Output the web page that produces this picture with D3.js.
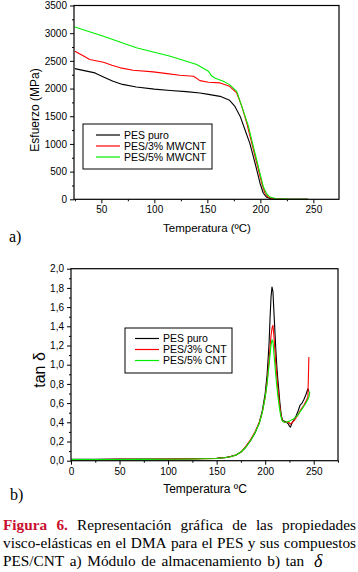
<!DOCTYPE html>
<html><head><meta charset="utf-8">
<script src="https://cdn.jsdelivr.net/npm/d3@7/dist/d3.min.js"></script>
<style>body{margin:0;background:#fff}svg{display:block}</style>
</head><body>
<svg id="c" width="358" height="572"></svg>
<script>
// ---------- DATA: chart a (storage modulus) ----------
const seriesNamesA = ["PES puro", "PES/3% MWCNT", "PES/5% MWCNT"];
const tempA_puro = [25,35,44,52,61,70,83,100,115,130,143,151,162,171,176,181,185.5,190,193.4,196.6,199.7,202.8,206,210,215,230,245];
const modA_puro  = [2360,2320,2283,2210,2131,2075,2029,1990,1965,1944,1921,1895,1859,1787,1678,1497,1256,1015,772,531,290,109,36,10,3,0,0];
const tempA_3 = [25,32,39,52,60,68,80,99,112,124,137,143,151,162,171,177.7,182.5,187.2,191.9,196.6,201.3,204.4,207.6,212,220,245];
const modA_3  = [2675,2600,2524,2476,2420,2374,2330,2301,2270,2240,2222,2143,2115,2102,2040,1921,1678,1377,1015,652,290,109,36,10,3,0];
const tempA_5 = [25,52,83,115,140,151,154,157,165,171,177.7,182.5,188.8,193.4,198.1,202.8,206,209,215,225,245];
const modA_5  = [3110,2946,2736,2584,2433,2312,2230,2192,2130,2071,1950,1678,1316,953,591,228,96,40,10,3,0];
const xTicksA = [50,100,150,200,250];
const yTicksA = [0,500,1000,1500,2000,2500,3000,3500];

// ---------- DATA: chart b (tan delta) ----------
const seriesNamesB = ["PES puro", "PES/3% CNT", "PES/5% CNT"];
const tempB = [0,25,50,75,100,125,150,160,165,170,175,180,185,190,194,197,200,202,204,205,206,207,208,209,210,211,212,213,214,215,216,217,218,220,222,224,225,226,228,230,232,234,236,238,240,242,244,245,246];
const tanB_puro = [0.015,0.015,0.016,0.016,0.017,0.02,0.025,0.035,0.045,0.06,0.09,0.14,0.21,0.30,0.40,0.52,0.70,0.90,1.22,1.48,1.70,1.81,1.76,1.55,1.35,1.15,0.98,0.85,0.74,0.62,0.52,0.45,0.42,0.41,0.40,0.38,0.36,0.35,0.40,0.43,0.47,0.52,0.58,0.60,0.64,0.69,0.75,0.72,null];
const tanB_3 = [0.012,0.013,0.014,0.015,0.016,0.019,0.024,0.034,0.045,0.06,0.09,0.15,0.22,0.31,0.40,0.50,0.66,0.82,1.05,1.18,1.30,1.38,1.41,1.30,1.15,1.00,0.88,0.76,0.66,0.57,0.49,0.44,0.41,0.40,0.40,0.40,0.39,0.38,0.40,0.42,0.45,0.48,0.52,0.55,0.58,0.62,0.66,1.08,null];
const tanB_5 = [0.012,0.012,0.013,0.014,0.015,0.018,0.023,0.033,0.044,0.06,0.09,0.14,0.21,0.30,0.39,0.50,0.66,0.80,1.00,1.10,1.20,1.26,1.24,1.12,1.00,0.88,0.78,0.68,0.60,0.53,0.47,0.43,0.41,0.40,0.40,0.41,0.41,0.42,0.43,0.44,0.46,0.48,0.51,0.54,0.57,0.60,0.64,0.66,0.72];
const xTicksB = [0,50,100,150,200,250];
const yTicksB = [0,0.2,0.4,0.6,0.8,1.0,1.2,1.4,1.6,1.8,2.0];

const colors = ["#000000", "#ff0000", "#00ee00"];
const sans = "Liberation Sans, Arial, sans-serif";
const serif = "Liberation Serif, Times New Roman, serif";

const svg = d3.select("#c");

function drawPanel(opt) {
  const g = svg.append("g");
  const x = d3.scaleLinear().domain(opt.xDomain).range([opt.left, opt.right]);
  const y = d3.scaleLinear().domain(opt.yDomain).range([opt.bottom, opt.top]);

  const xAxis = d3.axisBottom(x).tickValues(opt.xTicks).tickSize(4).tickPadding(3).tickFormat(opt.xFmt);
  const xMinor = d3.axisBottom(x).tickValues(opt.xMinor).tickSize(2).tickFormat("");
  const yAxis = d3.axisLeft(y).tickValues(opt.yTicks).tickSize(4).tickPadding(3).tickFormat(opt.yFmt);
  const yMinor = d3.axisLeft(y).tickValues(opt.yMinor).tickSize(2).tickFormat("");

  [[xAxis, "x"], [xMinor, "x"], [yAxis, "y"], [yMinor, "y"]].forEach(([ax, k]) => {
    const a = g.append("g")
      .attr("transform", k === "x" ? `translate(0,${opt.bottom})` : `translate(${opt.left},0)`)
      .call(ax);
    a.select(".domain").remove();
    a.selectAll("text").attr("font-family", sans).attr("font-size", 10).attr("fill", "#000");
    a.selectAll("line").attr("stroke", "#000");
  });

  const line = d3.line().defined(d => d[1] != null).x(d => x(d[0])).y(d => y(d[1]));
  opt.series.forEach((s, i) => {
    g.append("path")
      .datum(s.t.map((t, j) => [t, s.v[j]]))
      .attr("d", line)
      .attr("fill", "none")
      .attr("stroke", colors[i])
      .attr("stroke-width", 1.1)
      .attr("stroke-linejoin", "round");
  });

  g.append("rect").attr("x", opt.left).attr("y", opt.top)
    .attr("width", opt.right - opt.left).attr("height", opt.bottom - opt.top)
    .attr("fill", "none").attr("stroke", "#000").attr("stroke-width", 1.2);

  const L = opt.legend;
  g.append("rect").attr("x", L.x0).attr("y", L.y0).attr("width", L.x1 - L.x0).attr("height", L.y1 - L.y0)
    .attr("fill", "#fff").attr("stroke", "#000").attr("stroke-width", 1);
  opt.names.forEach((n, i) => {
    const cy = L.firstY + i * L.step;
    g.append("line").attr("x1", L.lx0).attr("x2", L.lx1).attr("y1", cy).attr("y2", cy)
      .attr("stroke", colors[i]).attr("stroke-width", 1.2);
    g.append("text").attr("x", L.tx).attr("y", cy + 3.6).attr("font-family", sans).attr("font-size", 10.5)
      .attr("fill", "#000").text(n);
  });

  g.append("text").attr("x", opt.xTitle.x).attr("y", opt.xTitle.y).attr("text-anchor", "middle")
    .attr("font-family", sans).attr("font-size", opt.xTitle.size).text(opt.xTitle.text);
  g.append("text").attr("transform", `translate(${opt.yTitle.x},${opt.yTitle.y}) rotate(-90)`)
    .attr("text-anchor", "middle").attr("font-family", sans).attr("font-size", opt.yTitle.size).text(opt.yTitle.text);
  g.append("text").attr("x", opt.tag.x).attr("y", opt.tag.y).attr("font-family", serif).attr("font-size", 16).text(opt.tag.text);
  return {x, y};
}

drawPanel({
  xDomain: [24.2, 274.2], yDomain: [0, 3500],
  left: 74, right: 339, top: 5.5, bottom: 199.3,
  xTicks: xTicksA, xMinor: [25,75,125,175,225],
  yTicks: yTicksA, yMinor: [250,750,1250,1750,2250,2750,3250],
  xFmt: d3.format("d"), yFmt: d3.format("d"),
  series: [{t: tempA_puro, v: modA_puro}, {t: tempA_3, v: modA_3}, {t: tempA_5, v: modA_5}],
  names: seriesNamesA,
  legend: {x0: 83, x1: 212, y0: 124, y1: 169, firstY: 135, step: 11, lx0: 96, lx1: 120, tx: 124},
  xTitle: {x: 207, y: 232, size: 11.5, text: "Temperatura (ºC)"},
  yTitle: {x: 39, y: 110, size: 12, text: "Esfuerzo (MPa)"},
  tag: {x: 9, y: 242, text: "a)"}
});

drawPanel({
  xDomain: [0, 275], yDomain: [0, 2],
  left: 71, right: 338, top: 268.7, bottom: 460.7,
  xTicks: xTicksB, xMinor: [25,75,125,175,225,275],
  yTicks: yTicksB, yMinor: [0.1,0.3,0.5,0.7,0.9,1.1,1.3,1.5,1.7,1.9],
  xFmt: d3.format("d"), yFmt: v => d3.format(".1f")(v).replace(".", ","),
  series: [{t: tempB, v: tanB_puro}, {t: tempB, v: tanB_3}, {t: tempB, v: tanB_5}],
  names: seriesNamesB,
  legend: {x0: 125, x1: 232, y0: 328, y1: 373, firstY: 338.5, step: 11, lx0: 135, lx1: 159, tx: 163},
  xTitle: {x: 205, y: 493, size: 12, text: "Temperatura ºC"},
  yTitle: {x: 45, y: 370, size: 16, text: "tan δ"},
  tag: {x: 10, y: 500, text: "b)"}
});

// ---------- caption ----------
const captionLines = [
  [{t: "Figura", b: 1}, {t: "6.", b: 1}, {t: "Representación"}, {t: "gráfica"}, {t: "de"}, {t: "las"}, {t: "propiedades"}],
  [{t: "visco-elásticas"}, {t: "en"}, {t: "el"}, {t: "DMA"}, {t: "para"}, {t: "el"}, {t: "PES"}, {t: "y"}, {t: "sus"}, {t: "compuestos"}],
  [{t: "PES/CNT"}, {t: "a)"}, {t: "Módulo"}, {t: "de"}, {t: "almacenamiento"}, {t: "b)"}, {t: "tan"}, {t: "δ", d: 1}]
];
const capY = [530, 548, 566];
const cap = svg.append("g");
captionLines.forEach((words, li) => {
  const nodes = words.map(w => cap.append("text")
    .attr("y", capY[li] + (w.d ? 1 : 0))
    .attr("font-family", serif)
    .attr("font-size", w.d ? 18 : 15.3)
    .attr("font-style", w.d ? "italic" : "normal")
    .attr("font-weight", w.b ? "bold" : "normal")
    .attr("fill", w.b ? "#c8102e" : "#000")
    .text(w.t));
  const widths = nodes.map(n => n.node().getComputedTextLength());
  const total = d3.sum(widths);
  const x0 = 3, x1 = 356;
  const gap = li < 2 ? (x1 - x0 - total) / (words.length - 1) : 5.6;
  let cx = x0;
  nodes.forEach((n, i) => {
    n.attr("x", cx + (words[i].d ? 4 : 0));
    cx += widths[i] + gap;
  });
});
</script>
</body></html>
